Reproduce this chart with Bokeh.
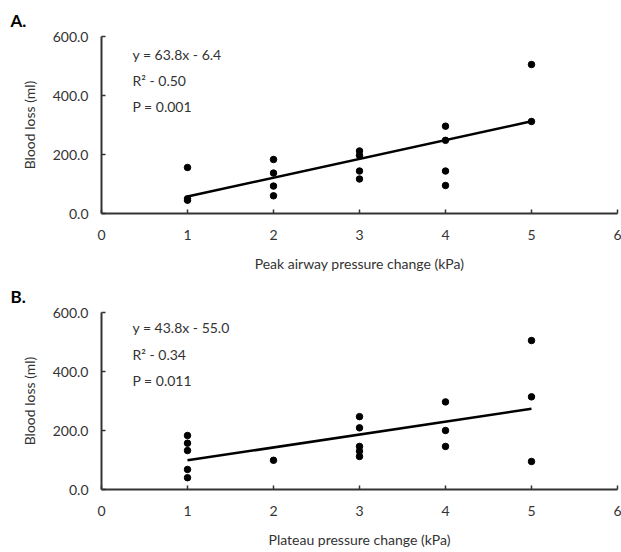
from bokeh.plotting import figure
from bokeh.layouts import column
from bokeh.models import Range1d, FixedTicker, PrintfTickFormatter, Label, ColumnDataSource
from bokeh.embed import file_html
from bokeh.resources import INLINE

# ---- data ----
peak_x = [1, 1, 1, 2, 2, 2, 2, 3, 3, 3, 3, 4, 4, 4, 4, 5, 5]
peak_y = [156, 45, 50, 183, 137, 93, 60, 212, 197, 144, 117, 296, 248, 144, 95, 505, 312]
peak_fit = [63.8, -6.4]          # slope, intercept
peak_stats = ["y = 63.8x - 6.4", "R\u00b2 - 0.50", "P = 0.001"]

plat_x = [1, 1, 1, 1, 1, 2, 3, 3, 3, 3, 3, 4, 4, 4, 5, 5, 5]
plat_y = [183, 157, 132, 68, 40, 99, 247, 209, 146, 130, 112, 297, 200, 146, 505, 314, 95]
plat_fit = [43.8, 55.0]          # drawn line (label reads "- 55.0")
plat_stats = ["y = 43.8x - 55.0", "R\u00b2 - 0.34", "P = 0.011"]

x_ticks = [0, 1, 2, 3, 4, 5, 6]
y_ticks = [0, 200, 400, 600]

FONT = "Lato"
TXT = "#333333"


def panel(letter, xs, ys, fit, stats, xlabel, stat_ys):
    p = figure(width=621, height=276, output_backend="svg", toolbar_location=None,
               x_range=Range1d(0, 6), y_range=Range1d(0, 600),
               min_border_left=101, min_border_right=4, min_border_top=36,
               min_border_bottom=63, title=letter)
    p.outline_line_color = None
    p.grid.grid_line_color = None
    p.background_fill_color = "white"
    p.border_fill_color = "white"

    p.title.align = "left"
    p.title.offset = -91
    p.title.standoff = 11
    p.title.text_font = FONT
    p.title.text_font_size = "17px"
    p.title.text_font_style = "bold"
    p.title.text_color = "black"

    for ax in (p.xaxis[0], p.yaxis[0]):
        ax.axis_line_color = "#333333"
        ax.axis_line_width = 2
        ax.major_tick_line_color = "#333333"
        ax.major_tick_line_width = 1.5
        ax.major_tick_in = 4
        ax.major_tick_out = 0
        ax.minor_tick_line_color = None
        ax.major_label_text_font = FONT
        ax.major_label_text_font_size = "14px"
        ax.major_label_text_color = TXT
        ax.axis_label_text_font = FONT
        ax.axis_label_text_font_size = "14px"
        ax.axis_label_text_font_style = "normal"
        ax.axis_label_text_color = TXT

    p.xaxis.ticker = FixedTicker(ticks=x_ticks)
    p.xaxis.major_label_standoff = 16
    p.xaxis.axis_label = xlabel
    p.xaxis.axis_label_standoff = 12

    p.yaxis.ticker = FixedTicker(ticks=y_ticks)
    p.yaxis.formatter = PrintfTickFormatter(format="%.1f")
    p.yaxis.major_label_standoff = 13
    p.yaxis.axis_label = "Blood loss (ml)"
    p.yaxis.axis_label_standoff = 12

    # regression line from slope/intercept over the observed x span
    lx = [min(xs), max(xs)]
    ly = [fit[0] * v + fit[1] for v in lx]
    p.line(lx, ly, line_color="black", line_width=2.5)

    src = ColumnDataSource(dict(x=xs, y=ys))
    p.scatter("x", "y", source=src, size=6.5, fill_color="black", line_color="black")

    for s, yy in zip(stats, stat_ys):
        p.add_layout(Label(x=0.36, y=yy, text=s, text_font=FONT, text_font_size="14px",
                           text_color=TXT, text_baseline="middle", text_align="left"))
    return p


pa = panel("A.", peak_x, peak_y, peak_fit, peak_stats,
           "Peak airway pressure change (kPa)", [539, 451, 363])
pb = panel("B.", plat_x, plat_y, plat_fit, plat_stats,
           "Plateau pressure change (kPa)", [548, 458, 370])

layout = column(pa, pb, spacing=0)
open("out.html", "w").write(file_html(layout, INLINE))
